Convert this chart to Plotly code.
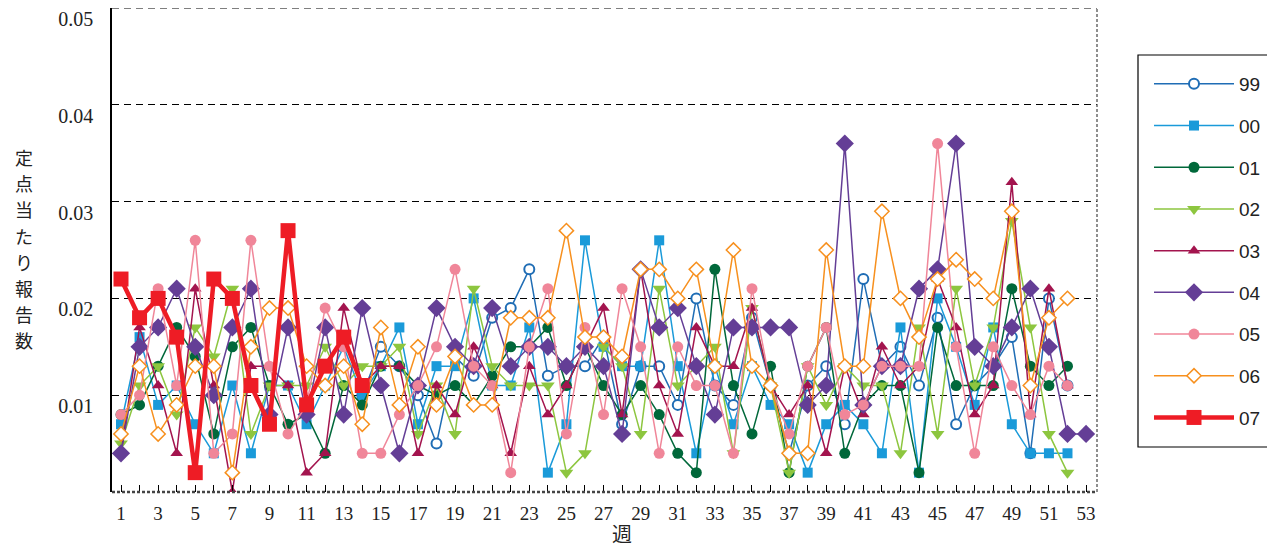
import plotly.graph_objects as go

weeks = list(range(1, 54))
N = None

y99 = [N]*13 + [0.010, 0.015, 0.013, 0.010, 0.005, 0.014, 0.012, 0.018, 0.019, 0.023, 0.012, 0.013, 0.013,
                0.016, 0.007, 0.013, 0.013, 0.009, 0.020, 0.011, 0.009, 0.018, 0.011, 0.004, 0.011, 0.013,
                0.007, 0.022, 0.013, 0.015, 0.011, 0.018, 0.007, 0.011, 0.013, 0.016, 0.004, 0.020, 0.011]
y00 = [0.007, 0.016, 0.009, 0.011, 0.007, 0.004, 0.011, 0.004, 0.011, 0.011, 0.007, 0.011, 0.015, 0.010,
       0.013, 0.017, 0.007, 0.013, 0.013, 0.020, 0.011, 0.011, 0.017, 0.002, 0.007, 0.026, 0.015, 0.013,
       0.013, 0.026, 0.013, 0.004, 0.013, 0.007, 0.013, 0.009, 0.007, 0.002, 0.007, 0.009, 0.007, 0.004,
       0.017, 0.002, 0.020, 0.015, 0.009, 0.017, 0.007, 0.004, 0.004, 0.004]
y01 = [0.008, 0.009, 0.013, 0.017, 0.014, 0.006, 0.015, 0.017, 0.011, 0.007, 0.008, 0.004, 0.011, 0.009,
       0.013, 0.013, 0.011, 0.010, 0.011, 0.009, 0.012, 0.015, 0.015, 0.017, 0.011, 0.015, 0.011, 0.008,
       0.011, 0.008, 0.004, 0.002, 0.023, 0.011, 0.006, 0.013, 0.002, 0.013, 0.017, 0.004, 0.009, 0.011,
       0.011, 0.002, 0.017, 0.011, 0.011, 0.011, 0.021, 0.013, 0.011, 0.013]
y02 = [0.005, 0.011, 0.013, 0.008, 0.017, 0.014, 0.021, 0.006, 0.011, 0.011, 0.011, 0.015, 0.011, 0.013,
       0.013, 0.015, 0.006, 0.011, 0.006, 0.021, 0.013, 0.011, 0.011, 0.011, 0.002, 0.004, 0.015, 0.013,
       0.006, 0.021, 0.011, 0.013, 0.015, 0.004, 0.019, 0.011, 0.002, 0.013, 0.009, 0.013, 0.011, 0.011,
       0.004, 0.017, 0.006, 0.021, 0.011, 0.017, 0.028, 0.017, 0.006, 0.002]
y03 = [0.004, 0.017, 0.011, 0.004, 0.021, 0.011, 0.000, 0.013, 0.013, 0.011, 0.002, 0.004, 0.019, 0.011,
       0.013, 0.013, 0.004, 0.011, 0.008, 0.015, 0.011, 0.004, 0.013, 0.008, 0.011, 0.015, 0.019, 0.008,
       0.023, 0.011, 0.006, 0.017, 0.013, 0.013, 0.019, 0.011, 0.008, 0.011, 0.004, 0.013, 0.008, 0.015,
       0.011, 0.013, 0.022, 0.017, 0.008, 0.011, 0.032, 0.008, 0.021, 0.011]
y04 = [0.004, 0.015, 0.017, 0.021, 0.015, 0.010, 0.017, 0.021, 0.008, 0.017, 0.008, 0.017, 0.008, 0.019,
       0.011, 0.004, 0.011, 0.019, 0.015, 0.013, 0.019, 0.013, 0.015, 0.015, 0.013, 0.015, 0.013, 0.006,
       0.023, 0.017, 0.019, 0.013, 0.008, 0.017, 0.017, 0.017, 0.017, 0.009, 0.011, 0.036, 0.009, 0.013,
       0.013, 0.021, 0.023, 0.036, 0.015, 0.013, 0.017, 0.021, 0.015, 0.006, 0.006]
y05 = [0.008, 0.010, 0.021, 0.011, 0.026, 0.004, 0.006, 0.026, 0.013, 0.006, 0.009, 0.019, 0.015, 0.004,
       0.004, 0.008, 0.011, 0.015, 0.023, 0.013, 0.011, 0.002, 0.015, 0.021, 0.006, 0.017, 0.008, 0.021,
       0.015, 0.004, 0.015, 0.011, 0.011, 0.004, 0.021, 0.011, 0.006, 0.013, 0.017, 0.008, 0.009, 0.013,
       0.013, 0.013, 0.036, 0.015, 0.004, 0.015, 0.011, 0.008, 0.013, 0.011]
y06 = [0.006, 0.013, 0.006, 0.009, 0.013, 0.013, 0.002, 0.015, 0.019, 0.019, 0.013, 0.011, 0.013, 0.007,
       0.017, 0.009, 0.015, 0.009, 0.014, 0.009, 0.009, 0.018, 0.018, 0.018, 0.027, 0.016, 0.016, 0.014,
       0.023, 0.023, 0.020, 0.023, 0.013, 0.025, 0.013, 0.011, 0.004, 0.004, 0.025, 0.013, 0.013, 0.029,
       0.020, 0.016, 0.022, 0.024, 0.022, 0.020, 0.029, 0.011, 0.018, 0.020]
y07 = [0.022, 0.018, 0.020, 0.016, 0.002, 0.022, 0.020, 0.011, 0.007, 0.027, 0.009, 0.013, 0.016, 0.011]

series_names = ["99", "00", "01", "02", "03", "04", "05", "06", "07"]
series_values = [y99, y00, y01, y02, y03, y04, y05, y06, y07]
y_tick_vals = [0.01, 0.02, 0.03, 0.04, 0.05]
y_tick_text = ["0.01", "0.02", "0.03", "0.04", "0.05"]
y_title = "定点当たり報告数"
x_title = "週"

styles = {
    "99": dict(color="#1f6db5", symbol="circle", size=10, fill="white", lw=1.5, mlw=2),
    "00": dict(color="#1a9ad9", symbol="square", size=10, fill=None, lw=1.5, mlw=0),
    "01": dict(color="#00683a", symbol="circle", size=11, fill=None, lw=1.5, mlw=0),
    "02": dict(color="#8dc63f", symbol="triangle-down", size=12, fill=None, lw=1.5, mlw=0),
    "03": dict(color="#a3144e", symbol="triangle-up", size=11, fill=None, lw=1.5, mlw=0),
    "04": dict(color="#643e96", symbol="diamond", size=14, fill=None, lw=1.5, mlw=0),
    "05": dict(color="#f08699", symbol="circle", size=11, fill=None, lw=1.5, mlw=0),
    "06": dict(color="#f7901e", symbol="diamond", size=11, fill="white", lw=1.5, mlw=1.5),
    "07": dict(color="#ee1c25", symbol="square", size=15, fill=None, lw=4.5, mlw=0),
}

fig = go.Figure()
for name, vals in zip(series_names, series_values):
    s = styles[name]
    fig.add_trace(go.Scatter(
        x=weeks[:len(vals)], y=vals, name=name, mode="lines+markers",
        legendgroup=name,
        line=dict(color=s["color"], width=s["lw"]),
        marker=dict(symbol=s["symbol"], size=s["size"],
                    color=s["fill"] if s["fill"] else s["color"],
                    line=dict(color=s["color"], width=s["mlw"])),
        connectgaps=False,
    ))

# page body has an 8px margin: figure coords = screen coords - 8
OFF = 8
# plot area in screen pixels: left 112, right 1097, top 8, bottom 492
SL, SR, ST, SB = 112, 1097, 8, 492
PL, PR, PT, PB = SL - OFF, SR - OFF, ST - OFF, SB - OFF
def px_x(sx):
    return (sx - SL) / (SR - SL)
def px_y(sy):
    return (SB - sy) / (SB - ST)

annotations = []
for i, ch in enumerate(y_title):
    annotations.append(dict(text=ch, xref="paper", yref="paper",
                            x=px_x(24), y=px_y(157 + 26.2 * i), xanchor="center", yanchor="middle",
                            showarrow=False,
                            font=dict(family="Noto Sans CJK JP", size=18, color="#222")))
annotations.append(dict(text=x_title, xref="paper", yref="paper",
                        x=px_x(622), y=px_y(550), xanchor="center", yanchor="bottom",
                        showarrow=False,
                        font=dict(family="Noto Sans CJK JP", size=20, color="#222")))

fig.update_layout(
    width=1275, height=550,
    margin=dict(l=PL, r=1275 - PR, t=PT, b=550 - PB, autoexpand=False),
    paper_bgcolor="white", plot_bgcolor="white",
    showlegend=True,
    legend=dict(xref="container", yref="container", x=1141 / 1275, y=1 - 57 / 550,
                xanchor="left", yanchor="top", maxheight=600,
                bgcolor="rgba(0,0,0,0)", borderwidth=0,
                font=dict(family="Liberation Sans", size=19, color="#222"),
                itemwidth=80, tracegroupgap=14, traceorder="grouped"),
    xaxis=dict(range=[0.515, 53.59], tickmode="linear", tick0=1, dtick=2, automargin=False,
               ticks="inside", ticklen=7, tickcolor="black", tickwidth=1,
               minor=dict(tick0=1, dtick=1, ticks="inside", ticklen=7, tickcolor="black", tickwidth=1),
               showgrid=False, zeroline=False, showline=False, ticklabeloverflow="allow",
               ticklabelstandoff=8,
               tickfont=dict(family="Liberation Serif", size=19, color="#222")),
    yaxis=dict(range=[0, 0.05], tickmode="array", tickvals=y_tick_vals, ticktext=y_tick_text,
               automargin=False, ticklabeloverflow="allow",
               showgrid=True, gridcolor="black", gridwidth=1, griddash="7px,5px",
               showline=True, linecolor="black", linewidth=1.5, zeroline=False,
               ticks="", ticklabelstandoff=13, ticklabelshift=11,
               tickfont=dict(family="Liberation Serif", size=20, color="#222")),
    annotations=annotations,
    shapes=[
        dict(type="line", xref="paper", yref="paper", x0=0, x1=1, y0=0, y1=0,
             line=dict(color="#444", width=2.5, dash="3px,2px")),
        dict(type="line", xref="paper", yref="paper", x0=1, x1=1, y0=0, y1=1,
             line=dict(color="#444", width=1.2, dash="3px,2px")),
        dict(type="line", xref="paper", yref="paper", x0=0, x1=1, y0=1, y1=1,
             line=dict(color="black", width=1, dash="7px,5px")),
        dict(type="rect", xref="paper", yref="paper", x0=px_x(1138), x1=px_x(1300),
             y0=px_y(447), y1=px_y(55),
             line=dict(color="black", width=1.2), fillcolor="rgba(0,0,0,0)"),
    ],
)

fig.write_html("out.html")
